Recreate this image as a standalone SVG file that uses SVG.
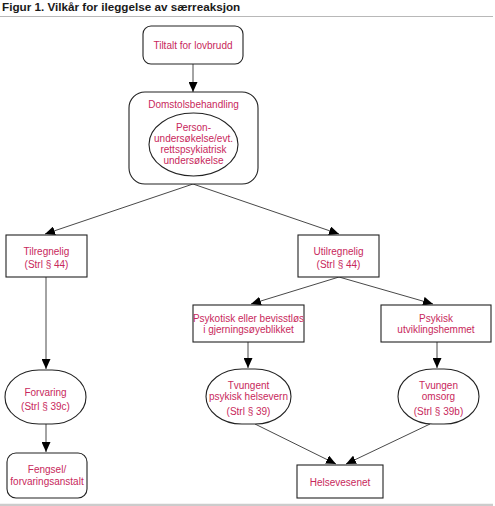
<svg xmlns="http://www.w3.org/2000/svg" width="495" height="506" viewBox="0 0 495 506">
<style>
.box{fill:#fff;stroke:#222;stroke-width:1.1}
.lbl{font-family:"Liberation Sans",Arial,sans-serif;font-size:10px;fill:#c8285c;text-anchor:middle}
.title{font-family:"Liberation Sans",Arial,sans-serif;font-size:11.7px;font-weight:bold;fill:#1a1a1a}
.con{fill:none;stroke:#333;stroke-width:0.9;marker-end:url(#ah)}
</style>
<defs>
<marker id="ah" markerUnits="userSpaceOnUse" markerWidth="10" markerHeight="9" refX="10" refY="4.5" orient="auto" viewBox="0 0 10 9">
<path d="M0,0 L10,4.5 L0,9 z" fill="#000"/>
</marker>
</defs>
<rect width="495" height="506" fill="#fff"/>
<text class="title" x="2" y="11">Figur 1. Vilkår for ileggelse av særreaksjon</text>
<line x1="0" y1="16.5" x2="493" y2="16.5" stroke="#b8b8b8" stroke-width="1.2"/>
<line x1="0" y1="505" x2="493" y2="505" stroke="#cccccc" stroke-width="2.5"/>

<g id="connectors">
<line class="con" x1="193" y1="64" x2="193" y2="92"/>
<line class="con" x1="193" y1="184" x2="45" y2="234"/>
<line class="con" x1="193" y1="184" x2="339" y2="234"/>
<line class="con" x1="46" y1="277" x2="46" y2="369"/>
<line class="con" x1="339" y1="277" x2="251" y2="304"/>
<line class="con" x1="339" y1="277" x2="433" y2="304"/>
<line class="con" x1="248" y1="342" x2="248" y2="368"/>
<line class="con" x1="437" y1="342" x2="437" y2="368"/>
<line class="con" x1="46" y1="424" x2="46" y2="452"/>
<line class="con" x1="255" y1="424" x2="336" y2="464"/>
<line class="con" x1="430" y1="424" x2="346" y2="464"/>
</g>

<g id="tiltalt">
<rect class="box" x="143" y="26" width="100" height="38" rx="8"/>
<text class="lbl" x="193" y="48.5">Tiltalt for lovbrudd</text>
</g>

<g id="domstol">
<rect class="box" x="129" y="92" width="129" height="92" rx="16"/>
<text class="lbl" x="193.5" y="108">Domstolsbehandling</text>
</g>

<g id="personundersokelse">
<ellipse class="box" cx="193.5" cy="144.5" rx="44.5" ry="31.5"/>
<text class="lbl" x="193.5" y="131">Person-</text>
<text class="lbl" x="193.5" y="142">undersøkelse/evt.</text>
<text class="lbl" x="193.5" y="153">rettspsykiatrisk</text>
<text class="lbl" x="193.5" y="164">undersøkelse</text>
</g>

<g id="tilregnelig">
<rect class="box" x="6" y="235" width="81" height="42"/>
<text class="lbl" x="46.5" y="254.5">Tilregnelig</text>
<text class="lbl" x="46.5" y="267.5">(Strl § 44)</text>
</g>

<g id="utilregnelig">
<rect class="box" x="298" y="235" width="81" height="42"/>
<text class="lbl" x="338.5" y="254.5">Utilregnelig</text>
<text class="lbl" x="338.5" y="267.5">(Strl § 44)</text>
</g>

<g id="psykotisk">
<rect class="box" x="193" y="305" width="111" height="37"/>
<text class="lbl" x="248.5" y="321.5">Psykotisk eller bevisstløs</text>
<text class="lbl" x="248.5" y="332.5">i gjerningsøyeblikket</text>
</g>

<g id="psykisk">
<rect class="box" x="381" y="305" width="110" height="37"/>
<text class="lbl" x="436" y="321.5">Psykisk</text>
<text class="lbl" x="436" y="332.5">utviklingshemmet</text>
</g>

<g id="forvaring">
<rect class="box" x="5" y="370" width="81" height="54" rx="34" ry="27"/>
<text class="lbl" x="45.5" y="395.5">Forvaring</text>
<text class="lbl" x="45.5" y="409.5">(Strl § 39c)</text>
</g>

<g id="fengsel">
<rect class="box" x="7" y="453" width="80" height="45" rx="9"/>
<text class="lbl" x="47" y="472.5">Fengsel/</text>
<text class="lbl" x="47" y="484.5">forvaringsanstalt</text>
</g>

<g id="tvungent">
<rect class="box" x="206" y="369" width="85" height="55" rx="36" ry="28"/>
<text class="lbl" x="248.5" y="388.5">Tvungent</text>
<text class="lbl" x="248.5" y="400">psykisk helsevern</text>
<text class="lbl" x="248.5" y="415">(Strl § 39)</text>
</g>

<g id="tvungen">
<rect class="box" x="398" y="369" width="81" height="55" rx="35" ry="28"/>
<text class="lbl" x="438.5" y="388.5">Tvungen</text>
<text class="lbl" x="438.5" y="400">omsorg</text>
<text class="lbl" x="438.5" y="415">(Strl § 39b)</text>
</g>

<g id="helsevesenet">
<rect class="box" x="297" y="465" width="86" height="33"/>
<text class="lbl" x="340" y="485.5">Helsevesenet</text>
</g>
</svg>
